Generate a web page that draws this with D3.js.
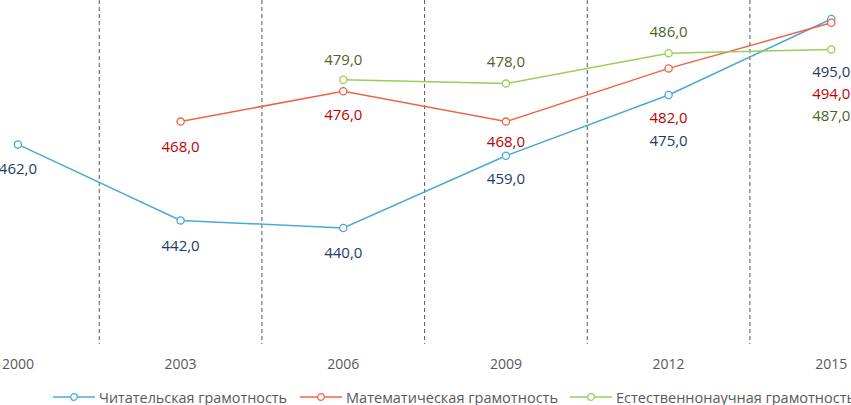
<!DOCTYPE html>
<html><head><meta charset="utf-8">
<script src="https://cdn.jsdelivr.net/npm/d3@7/dist/d3.min.js"></script>
<style>html,body{margin:0;padding:0;background:#fff;overflow:hidden}</style>
</head><body>
<svg id="c" width="851" height="405"></svg>
<script>
const years = ["2000","2003","2006","2009","2012","2015"];
const reading = [462, 442, 440, 459, 475, 495];
const math = [null, 468, 476, 468, 482, 494];
const science = [null, null, 479, 478, 486, 487];
const seriesNames = ["Читательская грамотность","Математическая грамотность","Естественнонаучная грамотность"];

// label vertical offsets (px from point), separate styling config
const labelDy = [
  [24, 25, 24, 22, 45, 52],
  [0, 24, 23, 19, 49, 70],
  [0, 0, -21, -23, -22, 66]
];
const lineColors = ["#4ba9d9", "#ef6447", "#9acd5e"];
const labelColors = ["#223a66", "#c00000", "#4f6228"];

const svg = d3.select("#c");
const x = d3.scaleBand().domain(years).range([-63.4, 912.6]).paddingInner(0).paddingOuter(0);
const y = d3.scaleLinear().domain([410, 500]).range([342, 0]);
const cx = d => x(d) + x.bandwidth()/2;

// dashed category separators
years.slice(1).forEach(yr => {
  svg.append("line")
    .attr("x1", x(yr)).attr("x2", x(yr))
    .attr("y1", 0).attr("y2", 344)
    .attr("stroke", "#555").attr("stroke-width", 1)
    .attr("stroke-dasharray", "4,3");
});

// x axis labels
svg.append("g").selectAll("text").data(years).join("text")
  .attr("x", d => cx(d)).attr("y", 363)
  .attr("text-anchor", "middle").attr("dominant-baseline", "central")
  .attr("font-family", "Open Sans").attr("font-size", 14)
  .attr("fill", "#595959").text(d => d);

const all = [reading, math, science];
all.forEach((vals, si) => {
  const pts = years.map((yr, i) => ({yr, v: vals[i], i})).filter(p => p.v != null);
  svg.append("path").datum(pts)
    .attr("d", d3.line().x(p => cx(p.yr)).y(p => y(p.v)))
    .attr("fill", "none").attr("stroke", lineColors[si]).attr("stroke-width", 1.5);
});
all.forEach((vals, si) => {
  const pts = years.map((yr, i) => ({yr, v: vals[i], i})).filter(p => p.v != null);
  svg.append("g").selectAll("circle").data(pts).join("circle")
    .attr("cx", p => cx(p.yr)).attr("cy", p => y(p.v)).attr("r", 3.6)
    .attr("fill", "#fff").attr("stroke", lineColors[si]).attr("stroke-width", 1.3);
  svg.append("g").selectAll("text").data(pts).join("text")
    .attr("x", p => cx(p.yr)).attr("y", p => y(p.v) + labelDy[si][p.i])
    .attr("text-anchor", "middle").attr("dominant-baseline", "central")
    .attr("font-family", "Open Sans").attr("font-size", 15)
    .attr("fill", labelColors[si])
    .text(p => d3.format(".1f")(p.v).replace(".", ","));
});

// legend
const legX = [53, 300, 570];
const legTextW = [188, 212, 239];
seriesNames.forEach((name, si) => {
  const g = svg.append("g").attr("transform", `translate(${legX[si]},397)`);
  g.append("line").attr("x1", 0).attr("x2", 42).attr("y1", 0).attr("y2", 0)
    .attr("stroke", lineColors[si]).attr("stroke-width", 1.5);
  g.append("circle").attr("cx", 21).attr("cy", 0).attr("r", 3.3)
    .attr("fill", "#fff").attr("stroke", lineColors[si]).attr("stroke-width", 1.3);
  g.append("text").attr("x", 46).attr("y", 0)
    .attr("dominant-baseline", "central")
    .attr("font-family", "Open Sans").attr("font-size", 14)
    .attr("fill", "#595959")
    .attr("textLength", legTextW[si]).attr("lengthAdjust", "spacingAndGlyphs")
    .text(name);
});
</script>
</body></html>
